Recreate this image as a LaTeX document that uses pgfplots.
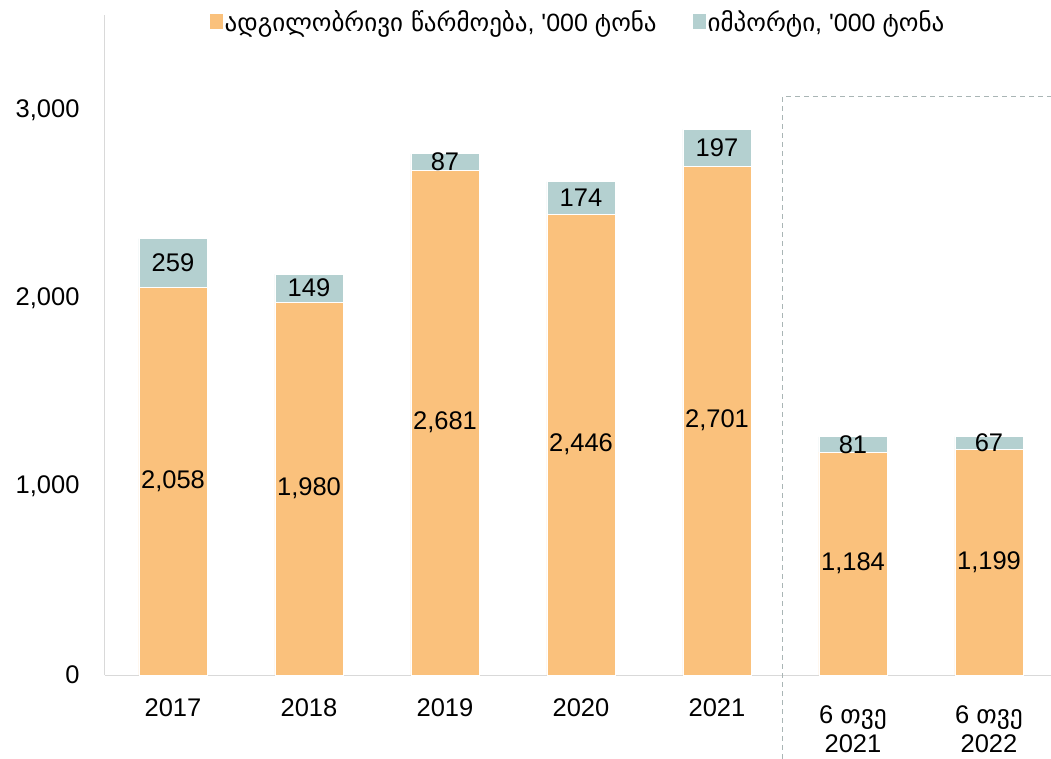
\documentclass[border=0pt]{standalone}
\usepackage{fontspec}
\setmainfont{Liberation Sans}
\newfontfamily\geo{DejaVu Sans}
\usepackage{pgfplots}
\pgfplotsset{compat=1.18}
\definecolor{prod}{HTML}{FAC17C}
\definecolor{imp}{HTML}{B4D0D0}
\definecolor{axgray}{HTML}{D9D9D9}
\definecolor{dashgray}{HTML}{A9B5B5}
\begin{document}
\begin{tikzpicture}[font=\fontsize{25.5}{29}\selectfont]
\useasboundingbox (-105pt,-84pt) rectangle (946pt,675pt);
\begin{axis}[
  scale only axis,
  width=946pt, height=660pt,
  ybar stacked,
  bar width=68pt,
  xmin=-0.5, xmax=6.456,
  ymin=0, ymax=3505,
  axis lines*=left,
  axis line style={axgray, line width=1pt, -},
  xtick={0,...,6},
  xticklabels={2017,2018,2019,2020,2021,{\rule{0pt}{25pt}6 {\geo თვე}\\2021},{\rule{0pt}{25pt}6 {\geo თვე}\\2022}},
  xticklabel style={align=center, anchor=north, yshift=-20pt},
  ytick={0,1000,2000,3000},
  major tick length=0pt,
  yticklabel style={xshift=-22pt},
  /pgf/number format/.cd, 1000 sep={,}, assume math mode=true,
  /pgfplots/.cd,
  clip=false,
  legend style={at={(0.5,0.989)}, anchor=center, draw=none, fill=none,
    legend columns=2, font=\fontsize{25}{29}\selectfont,
    /tikz/every even column/.append style={column sep=34pt}},
  legend image code/.code={\fill[#1,draw=none] (0pt,-7pt) rectangle (13pt,8pt);},
  nodes near coords,
  point meta=rawy,
  every node near coord/.append style={anchor=center, font=\fontsize{25.5}{29}\selectfont, text=black},
]
\addplot[fill=prod, draw=white, line width=0.8pt] coordinates {(0,2058) (1,1980) (2,2681) (3,2446) (4,2701) (5,1184) (6,1199)};
\addlegendentry{{\geo ადგილობრივი წარმოება}, \textquotesingle000 {\geo ტონა}}
\addplot[fill=imp, draw=white, line width=0.8pt] coordinates {(0,259) (1,149) (2,87) (3,174) (4,197) (5,81) (6,67)};
\addlegendentry{{\geo იმპორტი}, \textquotesingle000 {\geo ტონა}}
\draw[dashgray, dash pattern=on 5pt off 4pt, line width=0.9pt] (axis cs:4.48,-446) -- (axis cs:4.48,3070) -- (axis cs:6.456,3070);
\end{axis}
\end{tikzpicture}
\end{document}
